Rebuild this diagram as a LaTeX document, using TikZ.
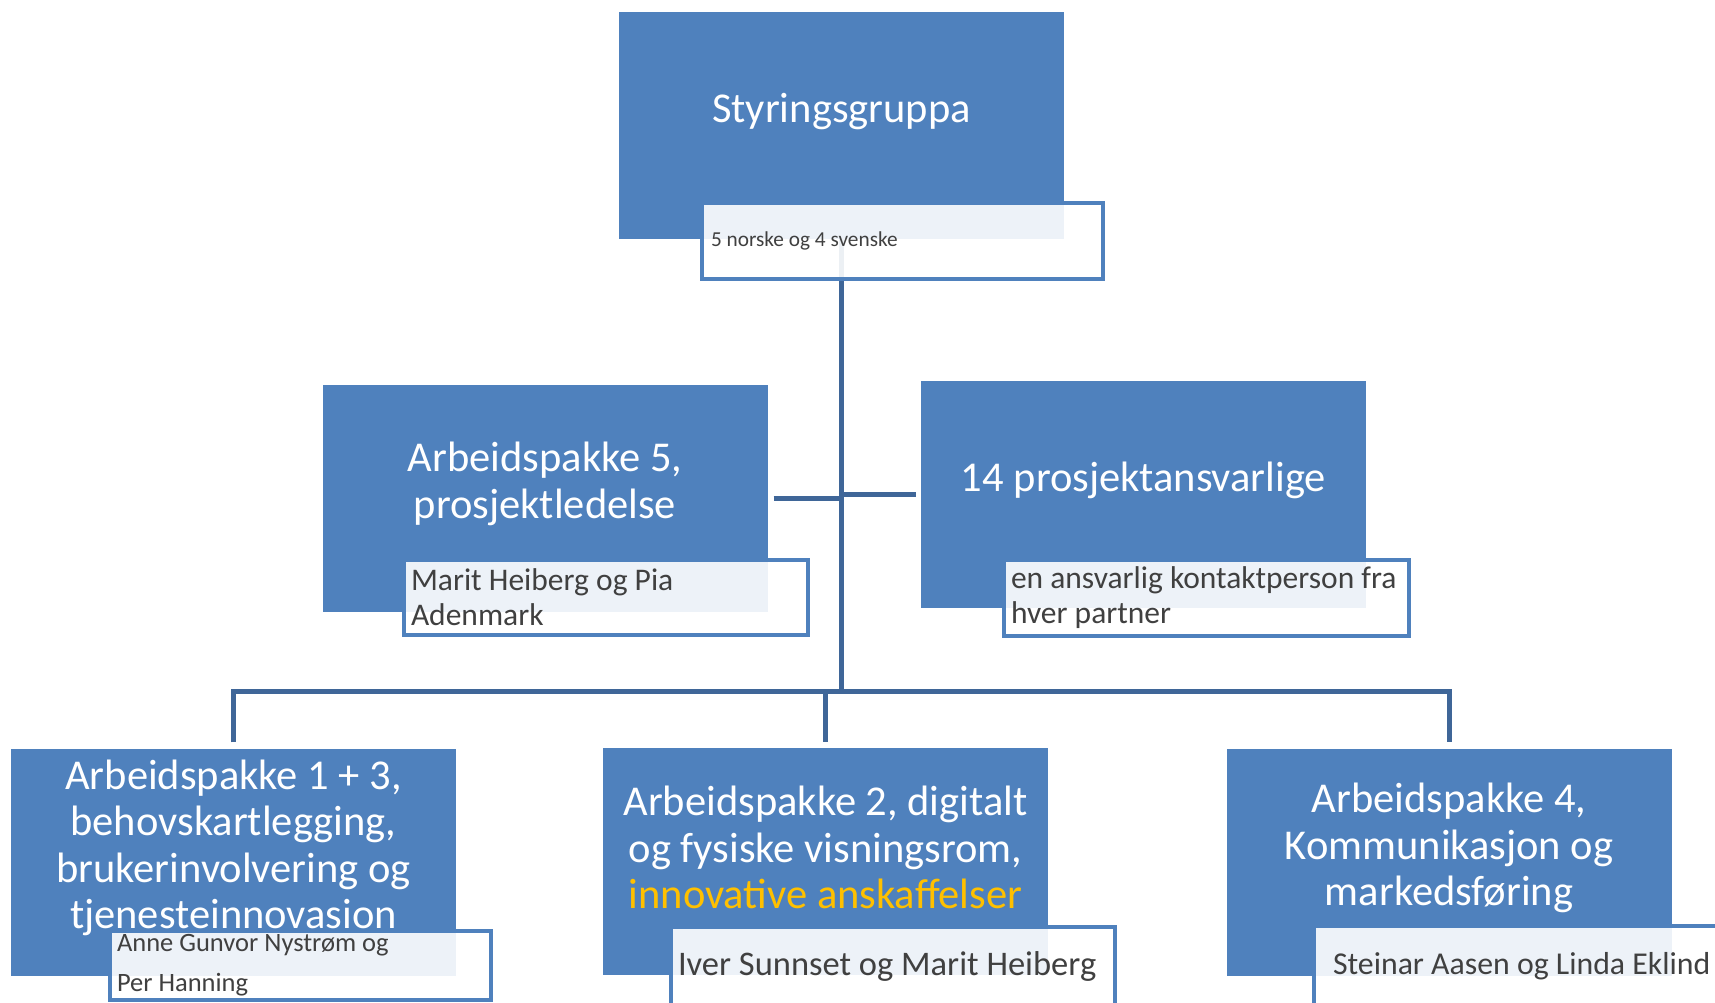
\documentclass[tikz,border=0pt]{standalone}
\usepackage{fontspec}
\setmainfont{Carlito}
\usetikzlibrary{positioning}
\pgfdeclarelayer{background}
\pgfsetlayers{background,main}
\definecolor{boxblue}{HTML}{4F81BD}
\definecolor{linkblue}{HTML}{3F6698}
\definecolor{lbltext}{HTML}{404040}
\definecolor{hilite}{HTML}{FFC000}
\tikzset{
    wp_box/.style = {rectangle, fill=boxblue, inner sep=0pt,
        minimum width=445pt, minimum height=227pt},% arbeidspakke, boks
    wp_title/.style = {align=center, text=white, inner sep=0pt,
        font=\fontsize{42.5}{46.5}\selectfont, yshift=14pt},% arbeidspakke, tittel
    wp_lbl/.style = {rectangle, anchor=north west, draw=boxblue, line width=4pt,
        fill=white, fill opacity=0.9, text opacity=1, text=lbltext,
        inner xsep=7pt, inner ysep=0pt, align=flush left, text width=#1,
        minimum height=75pt},% navnelapp
    wp_link/.style = {draw=linkblue, line width=5pt},
}

\begin{document}
\begin{tikzpicture}[x=1pt, y=-1pt]
\useasboundingbox (0,0) rectangle (1715,1002);
\clip (0,0) rectangle (1715,1002);
% boksene
\node [wp_box] (styr) at (841.5,125.5) {};
\node [wp_box] (ap5) at (545,498) {};
\node [wp_box] (ansv) at (1143.5,494) {};
\node [wp_box] (ap13) at (233.5,862) {};
\node [wp_box] (ap2) at (825.5,861.5) {};
\node [wp_box] (ap4) at (1449,862) {};
% titler
\node [wp_title] (styr_t) at (styr) {Styringsgruppa};
\node [wp_title] (ap5_t) at (ap5) {Arbeidspakke 5,\\prosjektledelse};
\node [wp_title] (ansv_t) at (ansv) {14 prosjektansvarlige};
\node [wp_title] (ap13_t) at (ap13) {Arbeidspakke 1 + 3,\\behovskartlegging,\\brukerinvolvering og\\tjenesteinnovasion};
\node [wp_title] (ap2_t) at (ap2) {Arbeidspakke 2, digitalt\\og fysiske visningsrom,\\\textcolor{hilite}{innovative anskaffelser}};
\node [wp_title] (ap4_t) at (ap4) {Arbeidspakke 4,\\Kommunikasjon og\\markedsføring};
% navnelapper
\node [wp_lbl=383pt, inner xsep=9pt, minimum height=76pt, font=\fontsize{21.3}{25}\selectfont] (styr_l) at (700,201) {5 norske og 4 svenske};
\node [wp_lbl=390pt, font=\fontsize{31.5}{35}\selectfont] (ap5_l) at (402,558) {Marit Heiberg og Pia\\Adenmark};
\node [wp_lbl=391pt, minimum height=76pt, font=\fontsize{31.5}{35}\selectfont] (ansv_l) at (1002,558) {\mbox{en ansvarlig kontaktperson fra}\\hver partner};
\node [wp_lbl=367pt, minimum height=69pt, font=\fontsize{26.5}{40}\selectfont] (ap13_l) at (108,929) {Anne Gunvor Nystrøm og\\Per Hanning};
\node [wp_lbl=430pt, minimum height=79pt, font=\fontsize{34.5}{38}\selectfont] (ap2_l) at (669,925) {Iver Sunnset og Marit Heiberg};
\node [wp_lbl=406pt, inner xsep=19pt, minimum height=80pt, font=\fontsize{31.8}{37}\selectfont] (ap4_l) at (1312,924) {Steinar Aasen og Linda Eklind};
% linjene
\coordinate (bus) at (841.5,691);
\begin{pgfonlayer}{background}
\draw [wp_link] (styr.south) -- (bus);
\draw [wp_link, shorten <=6pt, shorten >=6pt] (ap13.north) -- (ap13.north |- bus)
    -- (ap4.north |- bus) -- (ap4.north);
\draw [wp_link, shorten >=6pt] (ap2.north |- bus) -- (ap2.north);
\draw [wp_link, shorten <=6pt] (ap5.east) -- (ap5.east -| bus);
\draw [wp_link, shorten <=5pt] (ansv.west) -- (ansv.west -| bus);
\end{pgfonlayer}
\end{tikzpicture}
\end{document}
